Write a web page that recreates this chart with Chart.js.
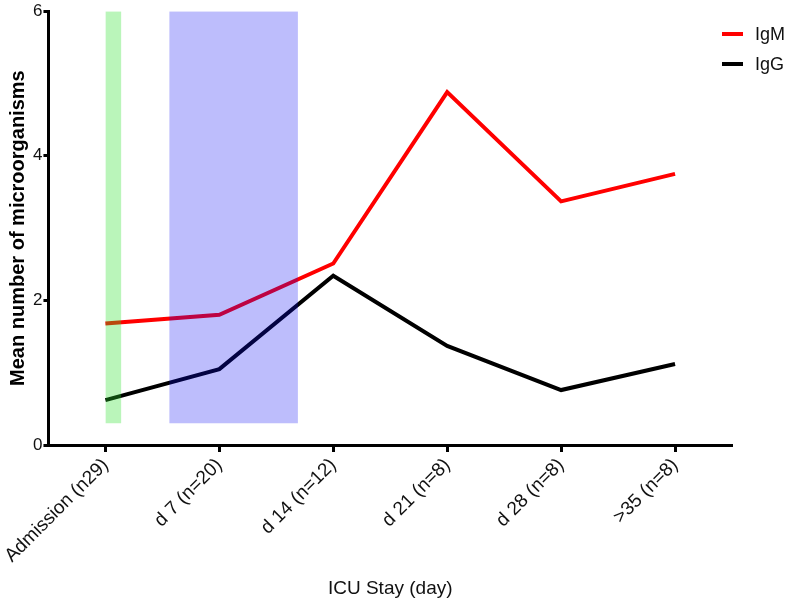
<!DOCTYPE html>
<html>
<head>
<meta charset="utf-8">
<script src="https://cdn.jsdelivr.net/npm/chart.js@4.4.0/dist/chart.umd.min.js"></script>
<style>
  body { margin: 0; background: #fff; }
  #wrap { position: relative; width: 787px; height: 608px; }
  #legend { position: absolute; left: 722px; top: 19px; font-family: 'Liberation Sans', Arial, sans-serif; font-size: 18px; color: #111; }
  #legend div { height: 30px; display: flex; align-items: center; }
  #legend span.sw { display: inline-block; width: 21px; height: 4px; margin-right: 12px; }
</style>
</head>
<body>
<div id="wrap">
  <canvas id="grafico"></canvas>
  <div id="legend"></div>
</div>
<script>
/* data */
var categories = ['Admission (n29)', 'd 7 (n=20)', 'd 14 (n=12)', 'd 21 (n=8)', 'd 28 (n=8)', '>35 (n=8)'];
var igm = [1.68, 1.80, 2.51, 4.88, 3.37, 3.75];
var igg = [0.62, 1.05, 2.34, 1.37, 0.76, 1.12];
var yTicks = [0, 2, 4, 6];

/* shaded periods, in category units (0 = Admission) */
var greenBand = [0, 0.14];
var blueBand = [0.56, 1.69];
var bandBottom = 0.3;
var bandTop = 6;

var fontAll = "'Liberation Sans', Arial, sans-serif";

function toPoints(values) {
  var pts = [];
  for (var i = 0; i < values.length; i++) {
    pts.push({ x: i, y: values[i] });
  }
  return pts;
}

function band(range, color) {
  return {
    label: '',
    data: [{ x: range[0], y: bandTop }, { x: range[1], y: bandTop }],
    borderWidth: 0,
    pointRadius: 0,
    backgroundColor: color,
    fill: { value: bandBottom }
  };
}

var series = [
  { label: 'IgM', data: toPoints(igm), borderColor: '#ff0000' },
  { label: 'IgG', data: toPoints(igg), borderColor: '#000000' }
];

var datasets = [
  band(greenBand, 'rgba(40,225,40,0.32)'),
  band(blueBand, 'rgba(10,10,245,0.27)')
];
for (var s = 0; s < series.length; s++) {
  datasets.push({
    label: series[s].label,
    data: series[s].data,
    borderColor: series[s].borderColor,
    borderWidth: 4,
    pointRadius: 0,
    fill: false
  });
}

/* legend */
var leg = document.getElementById('legend');
for (var s = 0; s < series.length; s++) {
  var row = document.createElement('div');
  row.innerHTML = '<span class="sw" style="background:' + series[s].borderColor + '"></span>' + series[s].label;
  leg.appendChild(row);
}

var ctx = document.getElementById('grafico');
var chart = new Chart(ctx, {
  type: 'line',
  data: { datasets: datasets },
  options: {
    responsive: true,
    maintainAspectRatio: false,
    animation: false,
    layout: { padding: { top: 6, right: 55, left: 2, bottom: 4 } },
    plugins: {
      legend: { display: false },
      tooltip: { enabled: false }
    },
    scales: {
      x: {
        type: 'linear',
        min: -0.5,
        max: 5.5,
        afterBuildTicks: function (axis) {
          axis.ticks = categories.map(function (c, i) { return { value: i }; });
        },
        ticks: {
          callback: function (v) { return categories[v]; },
          minRotation: 45,
          maxRotation: 45,
          color: '#111',
          font: { family: fontAll, size: 19 },
          padding: 2
        },
        grid: { display: true, drawOnChartArea: false, tickLength: 7, tickWidth: 3, tickColor: '#000' },
        border: { display: true, color: '#000', width: 3 },
        title: {
          display: true,
          text: 'ICU Stay (day)',
          color: '#111',
          font: { family: fontAll, size: 19 },
          padding: { top: 8 }
        }
      },
      y: {
        min: 0,
        max: 6,
        afterBuildTicks: function (axis) {
          axis.ticks = yTicks.map(function (v) { return { value: v }; });
        },
        ticks: {
          color: '#111',
          font: { family: fontAll, size: 17 },
          padding: 1
        },
        grid: { display: true, drawOnChartArea: false, tickLength: 5, tickWidth: 3, tickColor: '#000' },
        border: { display: true, color: '#000', width: 3 },
        title: {
          display: true,
          text: 'Mean number of microorganisms',
          color: '#000',
          font: { family: fontAll, size: 20, weight: 'bold' },
          padding: { bottom: 2 }
        }
      }
    }
  }
});
</script>
</body>
</html>
